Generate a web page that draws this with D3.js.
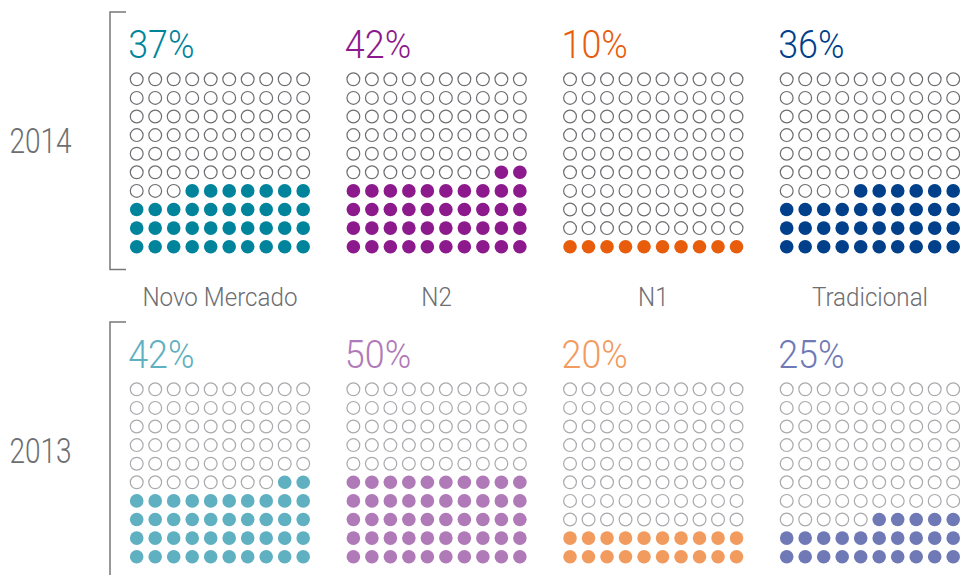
<!DOCTYPE html>
<html>
<head>
<meta charset="utf-8">
<script src="https://cdnjs.cloudflare.com/ajax/libs/d3/7.8.5/d3.min.js"></script>
<style>
  html, body { margin: 0; padding: 0; background: #fff; }
  svg { display: block; font-family: Roboto, "Noto Sans", sans-serif; }
</style>
</head>
<body>
<svg id="chart" width="960" height="575"></svg>
<script>
// Listing segments and years
const segments = ["Novo Mercado", "N2", "N1", "Tradicional"];
const years = ["2014", "2013"];

// Share (%) per segment, one array per year
const share2014 = [37, 42, 10, 36];
const share2013 = [42, 50, 20, 25];

// Palette: strong tone for 2014, light tone for 2013
const colors2014 = ["#00849c", "#8c1a8c", "#e85d0c", "#003f8a"];
const colors2013 = ["#5fb0c1", "#b079b8", "#f29b5e", "#6f79b6"];
const outline2014 = "#6d6e71";
const outline2013 = "#a9aaad";

const textGray = "#6d6e71";

const rows = [
  { year: years[0], values: share2014, colors: colors2014, outline: outline2014 },
  { year: years[1], values: share2013, colors: colors2013, outline: outline2013 }
];

const svg = d3.select("#chart");

// Panel placement: x of the first dot column per segment, y of the top dot row per year
const xPanel = d3.scalePoint().domain(segments).range([136.7, 786.7]);
const yPanel = d3.scalePoint().domain(years).range([79.3, 389.3]);

// Dot lattice inside a 10x10 panel
const xDot = d3.scaleLinear().domain([0, 9]).range([0, 166.5]);
const yDot = d3.scaleLinear().domain([0, 9]).range([0, 167.4]);

rows.forEach(r => {
  const y0 = yPanel(r.year);

  // bracket grouping one year's panels
  svg.append("path")
    .attr("d", `M126,${y0 - 67.3}H110V${y0 + 190.2}H126`)
    .attr("fill", "none")
    .attr("stroke", "#77787b")
    .attr("stroke-width", 1.5);

  // year label
  svg.append("text")
    .attr("transform", `translate(40.5,${y0 + 74}) scale(0.8,1)`)
    .attr("text-anchor", "middle")
    .attr("font-size", 35)
    .attr("font-weight", 300)
    .attr("fill", textGray)
    .text(r.year);

  segments.forEach((seg, i) => {
    const x0 = xPanel(seg);
    const n = r.values[i];
    const g = svg.append("g").attr("transform", `translate(${x0},${y0})`);

    // percentage heading
    svg.append("text")
      .attr("transform", `translate(${x0 - 8.5},${y0 - 21}) scale(0.92,1)`)
      .attr("font-size", 39)
      .attr("font-weight", 300)
      .attr("fill", r.colors[i])
      .text(n + "%");

    // 100 dots: filled from the bottom row upward, right to left within a row
    const cells = d3.range(100).map(k => ({
      row: 9 - Math.floor(k / 10),
      col: 9 - (k % 10),
      on: k < n
    }));

    g.selectAll("circle")
      .data(cells)
      .join("circle")
      .attr("cx", d => xDot(d.col))
      .attr("cy", d => yDot(d.row))
      .attr("r", d => d.on ? 6.8 : 6.4)
      .attr("fill", d => d.on ? r.colors[i] : "#fff")
      .attr("stroke", d => d.on ? "none" : r.outline)
      .attr("stroke-width", 1.2);
  });
});

// segment names between the two years
segments.forEach(seg => {
  svg.append("text")
    .attr("transform", `translate(${xPanel(seg) + xDot(9) / 2},306) scale(0.93,1)`)
    .attr("text-anchor", "middle")
    .attr("font-size", 26)
    .attr("font-weight", 300)
    .attr("fill", textGray)
    .text(seg);
});
</script>
</body>
</html>
